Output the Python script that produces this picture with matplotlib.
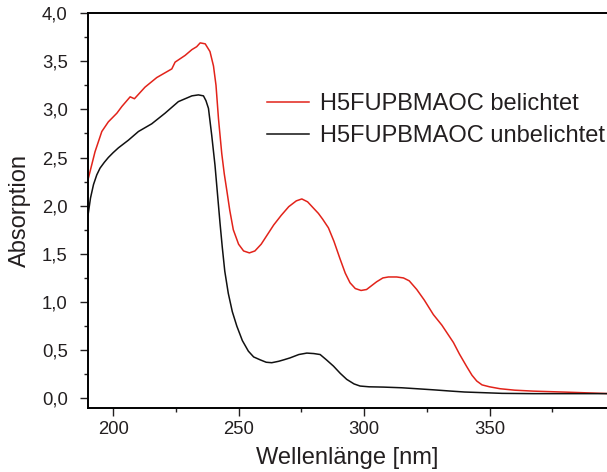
import matplotlib.pyplot as plt
from matplotlib.ticker import MultipleLocator

plt.rcParams['font.family'] = ['Liberation Sans', 'DejaVu Sans']

# belichtet (red)
wl_red = [190, 192.8, 195.5, 198.1, 201.5, 203.5, 206.8, 208.5, 212.7, 217.4, 223.4, 224.7,
          228.7, 231.4, 233.3, 234.7, 236.7, 238.6, 240, 241, 242, 243.3, 244.3, 245.3, 246.5,
          247.9, 250, 252, 254.3, 256.5, 259, 262, 264, 267, 270, 273, 275.2, 277.5, 280,
          281.8, 283.5, 285.8, 288, 290.4, 292.5, 294.4, 296.5, 298.8, 301, 303, 305,
          307.5, 309.7, 313, 315.7, 318, 321, 324, 327.6, 331, 335.6, 338, 340.9, 343,
          344.9, 347, 350, 354.2, 360, 367.5, 380, 397]
abs_red = [2.27, 2.56, 2.77, 2.87, 2.96, 3.03, 3.13, 3.11, 3.23, 3.33, 3.42, 3.49,
           3.56, 3.62, 3.65, 3.69, 3.68, 3.60, 3.45, 3.25, 2.90, 2.54, 2.33, 2.16, 1.95,
           1.75, 1.60, 1.53, 1.51, 1.53, 1.60, 1.72, 1.80, 1.90, 1.99, 2.05, 2.07, 2.04, 1.97,
           1.92, 1.86, 1.77, 1.63, 1.45, 1.30, 1.20, 1.14, 1.12, 1.13, 1.17, 1.21,
           1.25, 1.26, 1.26, 1.25, 1.22, 1.13, 1.02, 0.87, 0.76, 0.58, 0.46, 0.33, 0.24,
           0.18, 0.14, 0.12, 0.10, 0.085, 0.075, 0.065, 0.05]

# unbelichtet (black)
wl_blk = [190, 191, 192.2, 193.5, 194.8, 196.5, 198.1, 200, 202.1, 206.1, 210.1, 215.4, 220.7,
          226, 231.4, 234, 236, 237, 238, 239.3, 240.6, 241.6, 242.6, 243.5, 244.5,
          245.9, 247.5, 249.3, 251.5, 253.9, 256, 258.6, 261, 263.2, 266, 268, 270.5, 274,
          277.2, 280, 282.5, 285, 287.8, 290.5, 293.1, 296, 298.4, 302, 307.7, 315, 321,
          328, 334.3, 340, 347.5, 355, 367.5, 397]
abs_blk = [1.90, 2.08, 2.22, 2.32, 2.39, 2.45, 2.50, 2.55, 2.60, 2.68, 2.77, 2.85, 2.96,
           3.08, 3.14, 3.15, 3.14, 3.09, 3.01, 2.73, 2.42, 2.12, 1.82, 1.57, 1.32,
           1.09, 0.90, 0.75, 0.60, 0.49, 0.43, 0.40, 0.375, 0.37, 0.385, 0.40, 0.42, 0.455,
           0.47, 0.465, 0.455, 0.40, 0.335, 0.26, 0.197, 0.15, 0.128, 0.12, 0.117, 0.11, 0.10,
           0.088, 0.076, 0.066, 0.059, 0.052, 0.049, 0.049]

labels = ['H5FUPBMAOC belichtet', 'H5FUPBMAOC unbelichtet']
txt = '#231f20'

fig = plt.figure(figsize=(6.07, 4.72), dpi=100)
ax = fig.add_axes([88 / 607, 1 - 408 / 472, 1 - 88 / 607, (408 - 13) / 472])

ax.plot(wl_red, abs_red, color='#e2231a', lw=1.1, label=labels[0])
ax.plot(wl_blk, abs_blk, color='#111111', lw=1.1, label=labels[1])

ax.set_xlim(190, 396.8)
ax.set_ylim(-0.1, 4.0)
ax.xaxis.set_major_locator(MultipleLocator(50))
ax.xaxis.set_minor_locator(MultipleLocator(25))
ax.yaxis.set_major_locator(MultipleLocator(0.5))
ax.yaxis.set_minor_locator(MultipleLocator(0.25))
ax.yaxis.set_major_formatter(lambda v, pos: f'{v:.1f}'.replace('.', ','))

for s in ['left', 'bottom', 'top']:
    ax.spines[s].set_linewidth(1.4)
ax.spines['right'].set_visible(False)

ax.tick_params(which='both', direction='out', width=1.0, colors=txt, labelsize=13.3)
ax.tick_params(which='major', length=5.5)
ax.tick_params(which='minor', length=3)
ax.tick_params(axis='y', pad=9)
ax.tick_params(axis='x', pad=4)

ax.set_xlabel('Wellenlänge [nm]', fontsize=17, color=txt, labelpad=6)
ax.set_ylabel('Absorption', fontsize=17, color=txt, labelpad=8)

leg = ax.legend(loc='upper left', bbox_to_anchor=(258 / 607, 1 - 84 / 472),
                bbox_transform=fig.transFigure, frameon=False, fontsize=17,
                handlelength=1.75, handletextpad=0.47, labelspacing=0.4, borderaxespad=0)
for t in leg.get_texts():
    t.set_color(txt)

fig.savefig('out.png', dpi=100)
